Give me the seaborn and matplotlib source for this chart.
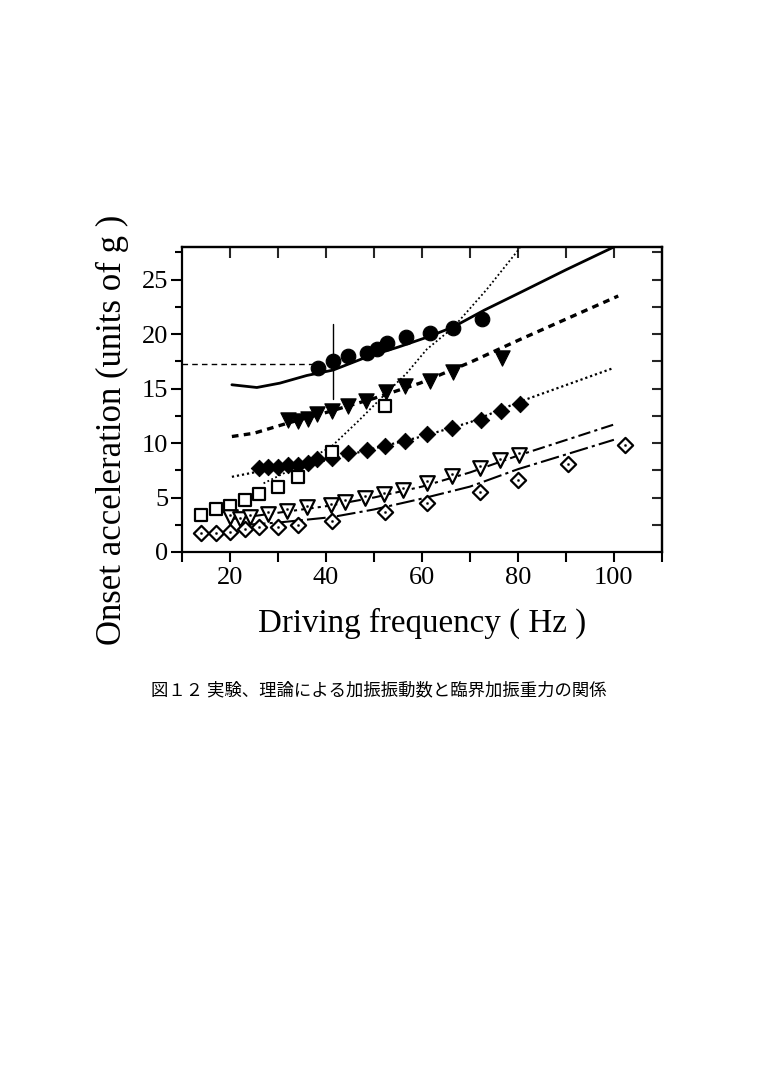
import seaborn as sns
import matplotlib.pyplot as plt
import numpy as np
import pandas as pd
from matplotlib.ticker import MultipleLocator

sns.set_style('ticks')
plt.rcParams['font.family'] = ['Liberation Serif', 'DejaVu Serif']

circ_f = [38.4, 41.5, 44.6, 48.6, 50.6, 52.8, 56.7, 61.7, 66.5, 72.6]
circ_g = [16.9, 17.5, 18.0, 18.3, 18.6, 19.2, 19.7, 20.1, 20.6, 21.4]

tri_f = [32.1, 34.2, 36.3, 38.1, 41.2, 44.5, 48.4, 52.5, 56.5, 61.7, 66.5, 76.6]
tri_g = [12.1, 12.0, 12.2, 12.7, 12.9, 13.4, 13.9, 14.7, 15.2, 15.7, 16.5, 17.8]

dia_f = [26.0, 28.0, 30.1, 32.1, 34.2, 36.3, 38.1, 41.2, 44.6, 48.5, 52.3, 56.5,
         61.1, 66.2, 72.3, 76.5, 80.4]
dia_g = [7.7, 7.8, 7.8, 8.0, 8.0, 8.15, 8.5, 8.6, 9.1, 9.4, 9.7, 10.2,
         10.8, 11.4, 12.1, 12.9, 13.6]

sq_f = [13.9, 17.0, 20.0, 23.1, 26.0, 30.1, 34.2, 41.2, 52.4]
sq_g = [3.4, 3.95, 4.23, 4.78, 5.33, 6.0, 6.9, 9.2, 13.4]

otri_f = [20.0, 22.1, 24.2, 28.0, 31.9, 36.0, 41.0, 44.0, 48.1, 52.1, 56.1, 61.1,
          66.2, 72.1, 76.3, 80.2]
otri_g = [3.25, 3.0, 3.25, 3.5, 3.8, 4.1, 4.3, 4.6, 5.0, 5.3, 5.7, 6.35,
          7.0, 7.7, 8.4, 8.9]

odia_f = [13.9, 17.0, 20.0, 23.1, 26.0, 30.1, 34.2, 41.2, 52.3, 61.0, 72.1, 80.1,
          90.4, 102.4]
odia_g = [1.72, 1.77, 1.87, 2.09, 2.27, 2.33, 2.48, 2.85, 3.7, 4.5, 5.5, 6.6,
          8.1, 9.8]

# theory curves
solid_f = [20.4, 25.6, 30.4, 36.0, 41.5, 48.5, 55.0, 61.3, 66.5, 73.0, 80.4, 90.0, 100.0]
solid_g = [15.35, 15.1, 15.5, 16.2, 16.7, 17.9, 18.8, 19.75, 20.65, 22.2, 23.8, 25.9, 28.0]

dash_f = [20.4, 25.0, 31.8, 40.0, 50.0, 59.6, 70.0, 80.4, 100.9]
dash_g = [10.6, 10.9, 11.8, 12.8, 14.1, 15.5, 17.4, 19.5, 23.5]

dot_f = [20.4, 25.0, 30.0, 40.0, 50.0, 60.0, 70.0, 80.4, 100.0]
dot_g = [6.9, 7.3, 7.7, 8.4, 9.5, 10.6, 11.9, 13.8, 16.9]

steep_f = [27.0, 32.5, 41.2, 46.7, 51.9, 56.8, 61.0, 66.5, 73.5, 80.4]
steep_g = [6.3, 7.5, 9.7, 12.0, 14.3, 16.4, 18.6, 20.6, 24.1, 27.9]

dd1_f = [20.0, 30.0, 40.0, 50.0, 60.0, 70.0, 80.0, 100.0]
dd1_g = [3.0, 3.6, 4.2, 5.0, 6.0, 7.3, 8.85, 11.7]

dd2_f = [23.5, 30.0, 41.2, 50.0, 60.0, 70.0, 80.0, 100.0]
dd2_g = [2.5, 2.7, 3.2, 3.9, 4.9, 6.0, 7.6, 10.3]

ref_g = 17.3       # horizontal reference
ref_f_end = 37.5
bar_f = 41.5       # vertical bar
bar_lo, bar_hi = 14.0, 20.9

fig = plt.figure(figsize=(7.63, 10.87), dpi=100)
ax = fig.add_axes([0.2385, 0.4922, 0.629, 0.2806])

k = 'black'
sns.lineplot(x=solid_f, y=solid_g, ax=ax, color=k, lw=2.0, zorder=2)
sns.lineplot(x=dash_f, y=dash_g, ax=ax, color=k, lw=2.4, linestyle=(0, (2.0, 1.6)), zorder=2)
sns.lineplot(x=dot_f, y=dot_g, ax=ax, color=k, lw=1.6, linestyle=(0, (1.0, 1.3)), zorder=2)
sns.lineplot(x=steep_f, y=steep_g, ax=ax, color=k, lw=1.3, linestyle=(0, (1.0, 1.4)), zorder=2)
sns.lineplot(x=dd1_f, y=dd1_g, ax=ax, color=k, lw=1.5, linestyle=(0, (6, 2, 1.5, 2)), zorder=2)
sns.lineplot(x=dd2_f, y=dd2_g, ax=ax, color=k, lw=1.5, linestyle=(0, (9, 2, 1.5, 2)), zorder=2)
ax.plot([10, ref_f_end], [ref_g, ref_g], color=k, lw=1.0, linestyle=(0, (4, 3)), zorder=2)
ax.plot([bar_f, bar_f], [bar_lo, bar_hi], color=k, lw=1.0, zorder=2)

sns.scatterplot(x=circ_f, y=circ_g, ax=ax, marker='o', s=110, color=k, edgecolor=k, zorder=4)
sns.scatterplot(x=tri_f, y=tri_g, ax=ax, marker='v', s=120, color=k, edgecolor=k, zorder=4)
sns.scatterplot(x=dia_f, y=dia_g, ax=ax, marker='D', s=70, color=k, edgecolor=k, zorder=4)
sns.scatterplot(x=sq_f, y=sq_g, ax=ax, marker='s', s=70, color='white', edgecolor=k,
                linewidth=1.6, zorder=4)
sns.scatterplot(x=otri_f, y=otri_g, ax=ax, marker='v', s=110, color='white', edgecolor=k,
                linewidth=1.6, zorder=4)
sns.scatterplot(x=otri_f, y=np.array(otri_g) + 0.15, ax=ax, marker='o', s=3, color=k,
                edgecolor=k, zorder=5)
sns.scatterplot(x=odia_f, y=odia_g, ax=ax, marker='D', s=60, color='white', edgecolor=k,
                linewidth=1.6, zorder=4)
sns.scatterplot(x=odia_f, y=odia_g, ax=ax, marker='o', s=3, color=k, edgecolor=k, zorder=5)

ax.set_xlim(10, 110)
ax.set_ylim(0, 28)
ax.set_xticks([20, 40, 60, 80, 100])
ax.xaxis.set_minor_locator(MultipleLocator(10))
ax.yaxis.set_major_locator(MultipleLocator(5))
ax.yaxis.set_minor_locator(MultipleLocator(2.5))
ax.tick_params(axis='both', which='both', direction='out', color=k, width=1.5,
               labelsize=19, labelcolor=k)
ax.tick_params(axis='x', which='both', length=7, pad=4)
ax.tick_params(axis='y', which='major', length=8, pad=2)
ax.tick_params(axis='y', which='minor', length=5)
for sp in ax.spines.values():
    sp.set_visible(True)
    sp.set_linewidth(1.6)
    sp.set_color(k)

top = ax.secondary_xaxis('top')
top.set_xticks([20, 30, 40, 50, 60, 70, 80, 90, 100])
top.tick_params(direction='in', length=8, width=1.5, labeltop=False)
top.spines['top'].set_linewidth(1.6)
right = ax.secondary_yaxis('right')
right.set_yticks([2.5, 5, 7.5, 10, 12.5, 15, 17.5, 20, 22.5, 25, 27.5])
right.tick_params(direction='in', length=7, width=1.5, labelright=False)
right.spines['right'].set_linewidth(1.6)

ax.set_xlabel('')
ax.set_ylabel('')
fig.text(0.553, 0.4269, 'Driving frequency ( Hz )', fontsize=23.8, color=k,
         ha='center', va='center')
fig.text(0.147, 0.6044, 'Onset acceleration (units of g )', fontsize=25, rotation=90,
         color=k, ha='center', va='center')
fig.text(0.497, 0.365, '図１２ 実験、理論による加振振動数と臨界加振重力の関係', fontsize=12.5,
         color=k, ha='center', va='center', family=['Noto Sans CJK JP', 'DejaVu Sans'])

fig.savefig('out.png', dpi=100, facecolor='white')
